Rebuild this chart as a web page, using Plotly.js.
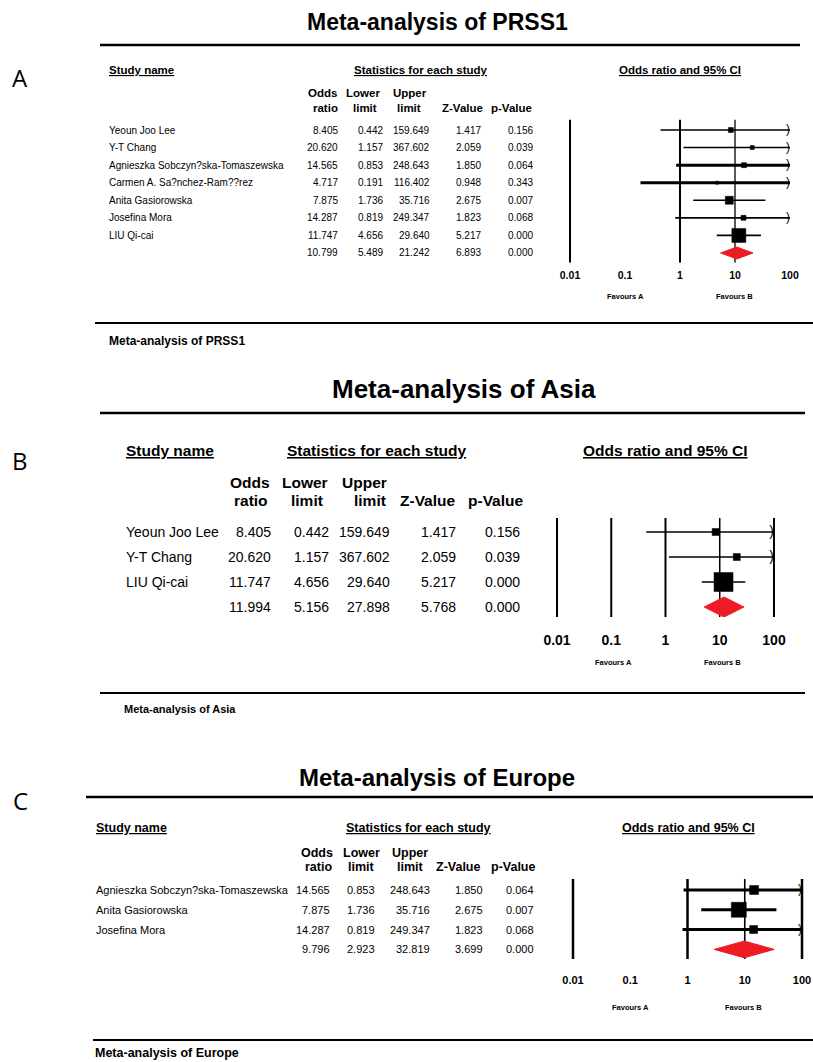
<!DOCTYPE html>
<html><head><meta charset="utf-8">
<script src="https://cdn.plot.ly/plotly-3.0.1.min.js"></script>
<style>html,body{margin:0;padding:0;background:#fff;}#chart{width:813px;height:1062px;}</style>
</head><body><div id="chart"></div>
<script>
// ---------------- DATA ----------------
const titleA = 'Meta-analysis of PRSS1';
const studiesA = ['Yeoun Joo Lee','Y-T Chang','Agnieszka Sobczyn?ska-Tomaszewska','Carmen A. Sa?nchez-Ram??rez','Anita Gasiorowska','Josefina Mora','LIU Qi-cai'];
const orA  = [8.405, 20.620, 14.565, 4.717, 7.875, 14.287, 11.747];
const lowA = [0.442, 1.157, 0.853, 0.191, 1.736, 0.819, 4.656];
const upA  = [159.649, 367.602, 248.643, 116.402, 35.716, 249.347, 29.640];
const zA   = [1.417, 2.059, 1.850, 0.948, 2.675, 1.823, 5.217];
const pA   = [0.156, 0.039, 0.064, 0.343, 0.007, 0.068, 0.000];
const summaryA = [10.799, 5.489, 21.242, 6.893, 0.000]; // OR, lower, upper, Z, p

const titleB = 'Meta-analysis of Asia';
const studiesB = ['Yeoun Joo Lee','Y-T Chang','LIU Qi-cai'];
const orB  = [8.405, 20.620, 11.747];
const lowB = [0.442, 1.157, 4.656];
const upB  = [159.649, 367.602, 29.640];
const zB   = [1.417, 2.059, 5.217];
const pB   = [0.156, 0.039, 0.000];
const summaryB = [11.994, 5.156, 27.898, 5.768, 0.000];

const titleC = 'Meta-analysis of Europe';
const studiesC = ['Agnieszka Sobczyn?ska-Tomaszewska','Anita Gasiorowska','Josefina Mora'];
const orC  = [14.565, 7.875, 14.287];
const lowC = [0.853, 1.736, 0.819];
const upC  = [248.643, 35.716, 249.347];
const zC   = [1.850, 2.675, 1.823];
const pC   = [0.064, 0.007, 0.068];
const summaryC = [9.796, 2.923, 32.819, 3.699, 0.000];

const tickVals = [0.01, 0.1, 1, 10, 100];
const tickText = ['0.01', '0.1', '1', '10', '100'];
const colHeadTop = ['Odds', 'Lower', 'Upper'];
const colHeadBot = ['ratio', 'limit', 'limit', 'Z-Value', 'p-Value'];
const headStudy = 'Study name', headStats = 'Statistics for each study', headCI = 'Odds ratio and 95% CI';
const favA = 'Favours A', favB = 'Favours B';

// ---------------- STYLE / LAYOUT ----------------
const W = 813, H = 1062;
const FONT = 'Liberation Sans, Arial, Helvetica, sans-serif';
const RED = '#ED1C24';
const px = p => p / W;
const py = p => 1 - p / H;
const fmt = v => v.toFixed(3);

const panels = [
  { letter:'A', letterY:78, xa:'x', ya:'y', xk:'xaxis', yk:'yaxis',
    title:titleA, titleX:437, titleY:22, titleSize:23, titleLine:[100,800,45], bottomLine:[95,813,323], footerX:107, footerY:341, footerSize:12,
    names:studiesA, or:orA, lo:lowA, hi:upA, z:zA, p:pA, sum:summaryA,
    px001:570, px100:790, row0:130, rowStep:17.57, yTop:119.5, yBot:262.7,
    refLines:[0.01,1,10], refW:[2,2,1.3], ciW:[1.4,1.4,3,3,1.4,1.8,1.8], sq:[5,4,5,3,8,5,14], diaHalf:0.34, arrowSize:12,
    tickSize:10.5, tickStandoff:5,
    headY:70, studyX:107, statsX:421, ciX:680, headSize:11.5,
    topY:93, botY:108, topX:[322.5,363,410], botX:[325,365,409.5,462.5,511.5],
    nameX:107, colRight:[340,385,432,483,535], dataSize:10,
    favY:296, favX:[625,734], favSize:7.5 },
  { letter:'B', letterY:460, xa:'x2', ya:'y2', xk:'xaxis2', yk:'yaxis2',
    title:titleB, titleX:464, titleY:389, titleSize:26, titleLine:[100,805,413], bottomLine:[100,805,693], footerX:122, footerY:709, footerSize:11,
    names:studiesB, or:orB, lo:lowB, hi:upB, z:zB, p:pB, sum:summaryB,
    px001:557, px100:774, row0:532, rowStep:25, yTop:518, yBot:617,
    refLines:[0.01,0.1,1,10,100], refW:[2,2,2,1.5,2], ciW:[1.4,1.4,1.4], sq:[7,7,19], diaHalf:0.4, arrowSize:14,
    tickSize:14, tickStandoff:13,
    headY:450, studyX:124, statsX:377, ciX:665, headSize:15.5,
    topY:482, botY:500, topX:[250,305,364], botX:[251,307,370,428,496],
    nameX:124, colRight:[273,331,392,458,522], dataSize:14,
    favY:662, favX:[613,722], favSize:7.5 },
  { letter:'C', letterY:800, xa:'x3', ya:'y3', xk:'xaxis3', yk:'yaxis3',
    title:titleC, titleX:437, titleY:777, titleSize:24, titleLine:[86,813,797], bottomLine:[93,813,1040], footerX:93, footerY:1053, footerSize:12.5,
    names:studiesC, or:orC, lo:lowC, hi:upC, z:zC, p:pC, sum:summaryC,
    px001:573, px100:802, row0:890, rowStep:19.8, yTop:879, yBot:959,
    refLines:[0.01,1,10,100], refW:[2.5,2.5,1.6,2.5], ciW:[3,3,3], sq:[9,15,8], diaHalf:0.42, arrowSize:12,
    tickSize:11, tickStandoff:13,
    headY:828, studyX:94, statsX:418, ciX:688, headSize:12.5,
    topY:853, botY:867, topX:[317,361,410], botX:[318,361,410,458,513],
    nameX:94, colRight:[332,377,432,485,536], dataSize:11,
    favY:1007, favX:[630,743], favSize:7.5 }
];

const traces = [], shapes = [], annotations = [];
const layout = {
  width: W, height: H, margin: {l:0, r:0, t:0, b:0},
  paper_bgcolor: '#fff', plot_bgcolor: 'rgba(0,0,0,0)',
  showlegend: false, hovermode: false,
  font: {family: FONT, color: '#000'}
};

function ann(o) { annotations.push(Object.assign({showarrow:false, xanchor:'center', yanchor:'middle', font:{family:FONT, color:'#000', size:10}}, o)); }

panels.forEach(P => {
  const dec = (P.px100 - P.px001) / 4;
  const xLeft = P.px001 - 0.1 * dec, xRight = P.px100 + 0.1 * dec;
  const yTopVal = (P.yTop - P.row0) / P.rowStep;
  const yBotVal = (P.yBot - P.row0) / P.rowStep;
  layout[P.xk] = {
    type: 'log', range: [-2.1, 2.1], domain: [px(xLeft), px(xRight)], anchor: P.ya,
    showgrid: false, zeroline: false, showline: false, ticks: '',
    tickmode: 'array', tickvals: tickVals, ticktext: tickText.map(t => '<b>' + t + '</b>'),
    tickfont: {family: FONT, size: P.tickSize, color: '#000'}, ticklabelstandoff: P.tickStandoff,
    fixedrange: true
  };
  layout[P.yk] = {
    range: [yBotVal, yTopVal], domain: [py(P.yBot), py(P.yTop)], anchor: P.xa,
    showgrid: false, zeroline: false, showline: false, showticklabels: false, ticks: '', fixedrange: true
  };
  const n = P.names.length;
  const base = {xaxis: P.xa, yaxis: P.ya, hoverinfo: 'skip', showlegend: false};
  // reference vertical lines
  P.refLines.forEach((v, k) => {
    traces.push(Object.assign({x:[v, v], y:[yTopVal, yBotVal], mode:'lines', line:{color:'#000', width:P.refW[k]}}, base));
  });
  // confidence intervals
  for (let i = 0; i < n; i++) {
    traces.push(Object.assign({x:[P.lo[i], Math.min(P.hi[i], tickVals[4])], y:[i, i], mode:'lines', line:{color:'#000', width:P.ciW[i]}}, base));
  }
  // arrows for intervals beyond the axis
  const ax = [], ay = [];
  for (let i = 0; i < n; i++) if (P.hi[i] > tickVals[4]) { ax.push(tickVals[4]); ay.push(i); }
  traces.push(Object.assign({x:ax, y:ay, mode:'text', text:ax.map(() => ')'), textposition:'middle left',
    textfont:{family:FONT, size:P.arrowSize, color:'#000'}, cliponaxis:false}, base));
  // study squares
  traces.push(Object.assign({x:P.or, y:P.names.map((_, i) => i), mode:'markers', opacity:1,
    marker:{symbol:'square', size:P.sq, color:'#000', opacity:1, line:{width:0.5, color:'#000'}}}, base));
  // pooled diamond
  const s = P.sum, h = P.diaHalf;
  traces.push(Object.assign({x:[s[1], s[0], s[2], s[0], s[1]], y:[n, n - h, n, n + h, n], mode:'lines',
    fill:'toself', fillcolor:RED, line:{color:RED, width:1}}, base));

  // ---- texts ----
  ann({x:px(20), y:py(P.letterY), xref:'paper', yref:'paper', text:P.letter, font:{family:'Open Sans, sans-serif', size:24, color:'#000'}});
  ann({x:px(P.titleX), y:py(P.titleY), xref:'paper', yref:'paper', text:'<b>' + P.title + '</b>', font:{family:FONT, size:P.titleSize, color:'#000'}});
  ann({x:px(P.footerX), y:py(P.footerY), xref:'paper', yref:'paper', xanchor:'left', text:'<b>' + P.title + '</b>', font:{family:FONT, size:P.footerSize, color:'#000'}});
  const hf = {family:FONT, size:P.headSize, color:'#000', lineposition:'under'};
  ann({x:px(P.studyX), y:py(P.headY), xref:'paper', yref:'paper', xanchor:'left', text:'<b>' + headStudy + '</b>', font:hf});
  ann({x:px(P.statsX), y:py(P.headY), xref:'paper', yref:'paper', text:'<b>' + headStats + '</b>', font:hf});
  ann({x:px(P.ciX), y:py(P.headY), xref:'paper', yref:'paper', text:'<b>' + headCI + '</b>', font:hf});
  const cf = {family:FONT, size:P.headSize, color:'#000'};
  colHeadTop.forEach((t, k) => ann({x:px(P.topX[k]), y:py(P.topY), xref:'paper', yref:'paper', text:'<b>' + t + '</b>', font:cf}));
  colHeadBot.forEach((t, k) => ann({x:px(P.botX[k]), y:py(P.botY), xref:'paper', yref:'paper', text:'<b>' + t + '</b>', font:cf}));
  const df = {family:FONT, size:P.dataSize, color:'#000'};
  for (let i = 0; i <= n; i++) {
    if (i < n) ann({x:px(P.nameX), y:i, xref:'paper', yref:P.ya, xanchor:'left', text:P.names[i], font:df});
    const vals = i < n ? [P.or[i], P.lo[i], P.hi[i], P.z[i], P.p[i]] : P.sum;
    vals.forEach((v, k) => ann({x:px(P.colRight[k]), y:i, xref:'paper', yref:P.ya, xanchor:'right', text:fmt(v), font:df}));
  }
  const ff = {family:FONT, size:P.favSize, color:'#000'};
  ann({x:px(P.favX[0]), y:py(P.favY), xref:'paper', yref:'paper', text:'<b>' + favA + '</b>', font:ff});
  ann({x:px(P.favX[1]), y:py(P.favY), xref:'paper', yref:'paper', text:'<b>' + favB + '</b>', font:ff});
  // rules
  shapes.push({type:'line', xref:'paper', yref:'paper', x0:px(P.titleLine[0]), x1:px(P.titleLine[1]), y0:py(P.titleLine[2]), y1:py(P.titleLine[2]), line:{color:'#000', width:2.5}});
  shapes.push({type:'line', xref:'paper', yref:'paper', x0:px(P.bottomLine[0]), x1:px(P.bottomLine[1]), y0:py(P.bottomLine[2]), y1:py(P.bottomLine[2]), line:{color:'#000', width:2.2}});
});

layout.shapes = shapes;
layout.annotations = annotations;
Plotly.newPlot('chart', traces, layout, {staticPlot: true, displayModeBar: false});
</script>
</body></html>
